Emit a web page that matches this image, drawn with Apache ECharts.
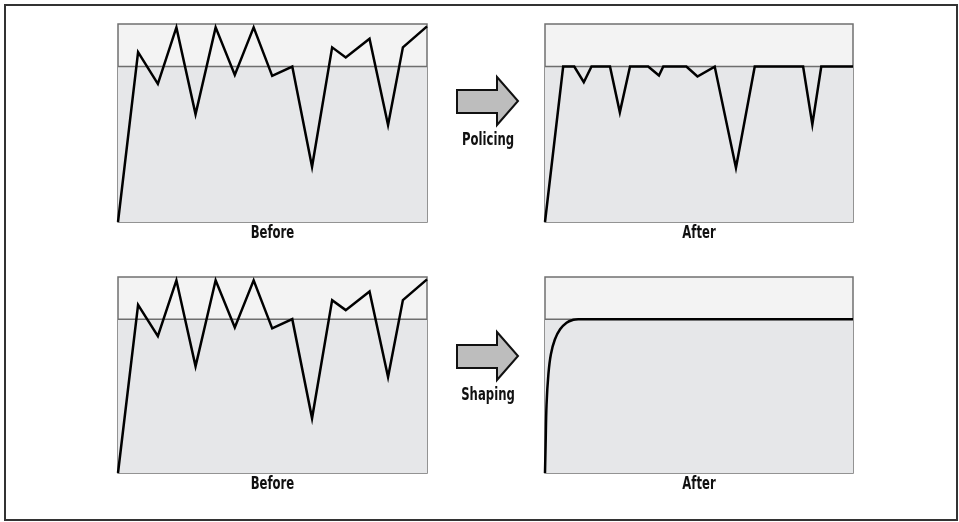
<!DOCTYPE html>
<html>
<head>
<meta charset="utf-8">
<script src="https://cdn.jsdelivr.net/npm/echarts@6/dist/echarts.min.js"></script>
<style>
  html, body { margin: 0; padding: 0; background: #ffffff; }
  #main { width: 959px; height: 522px; }
</style>
</head>
<body>
<div id="main"></div>
<script>
// traffic rate in % of time window (x) and % of panel height (y)
const limit = 78.5
const beforeX = [0, 6.5, 12.9, 18.9, 25.1, 31.6, 37.8, 43.9, 49.9, 56.4, 62.8, 69.3, 73.7, 81.4, 87.4, 92.2, 100]
const beforeY = [0, 85.8, 69.8, 98.3, 54.4, 98.3, 74.3, 98.3, 73.8, 78.5, 27.9, 88.2, 83.1, 92.6, 49.0, 88.2, 98.8]
const policedX = [0, 5.9, 9.5, 12.6, 15.1, 21.1, 24.3, 27.6, 33.5, 37.0, 38.4, 45.9, 49.5, 55.1, 62.0, 68.1, 83.8, 86.8, 89.7, 100]
const policedY = [0, 78.5, 78.5, 70.6, 78.5, 78.5, 55.4, 78.5, 78.5, 74.0, 78.5, 78.5, 73.5, 78.5, 27.4, 78.5, 78.5, 49.3, 78.5, 78.5]
const shapedX = [0, 0.2, 0.5, 1.1, 1.9, 3.2, 4.9, 7.0, 9.2, 10.8, 14, 100]
const shapedY = [0, 14.5, 34.9, 50.3, 60.5, 68.1, 73.3, 76.7, 78.2, 78.5, 78.5, 78.5]
const panelNames = ['Before', 'After', 'Before', 'After']
const arrowNames = ['Policing', 'Shaping']

// no narrow font installed, so condensed bold squeezed a bit more
const labelFont = 'bold 18px "DejaVu Sans Condensed", sans-serif'
const squeeze = 0.72

const zip = (xs, ys) => xs.map((x, i) => [x, ys[i]])
const panelData = [zip(beforeX, beforeY), zip(policedX, policedY), zip(beforeX, beforeY), zip(shapedX, shapedY)]

const grids = [
  { left: 118, top: 24, width: 309, height: 198 },
  { left: 545, top: 24, width: 308, height: 198 },
  { left: 118, top: 277, width: 309, height: 196 },
  { left: 545, top: 277, width: 308, height: 196 }
]

let option = {
  animation: false,
  backgroundColor: '#ffffff',
  grid: grids.map(g => Object.assign({
    show: true,
    backgroundColor: '#f3f3f3',
    borderColor: '#707070',
    borderWidth: 1.5
  }, g)),
  xAxis: [],
  yAxis: [],
  series: [],
  graphic: []
}

for (let i = 0; i < 4; i++) {
  option.xAxis.push({
    type: 'value',
    gridIndex: i,
    min: 0,
    max: 100,
    show: false
  })
  option.yAxis.push({
    type: 'value',
    gridIndex: i,
    min: 0,
    max: 100,
    show: false
  })
  // lower band + limit line
  option.series.push({
    type: 'line',
    xAxisIndex: i,
    yAxisIndex: i,
    z: 1,
    symbol: 'none',
    silent: true,
    data: [[0, limit], [100, limit]],
    lineStyle: { color: '#6e6e6e', width: 1.5 },
    areaStyle: { color: '#e6e7e9', opacity: 1 }
  })
  // traffic
  option.series.push({
    type: 'line',
    xAxisIndex: i,
    yAxisIndex: i,
    z: 3,
    symbol: 'none',
    clip: false,
    smooth: i === 3 ? 0.4 : false,
    data: panelData[i],
    lineStyle: { color: '#000000', width: 2.5, join: 'miter' }
  })
  // panel caption
  const g = grids[i]
  option.graphic.push({
    type: 'text',
    x: g.left + g.width / 2,
    y: g.top + g.height + 11,
    scaleX: squeeze,
    style: { text: panelNames[i], fill: '#111111', font: labelFont, align: 'center', verticalAlign: 'middle' }
  })
}

// arrows between the panels
const arrowTops = [77, 332]
arrowNames.forEach((name, k) => {
  const t = arrowTops[k]
  option.graphic.push({
    type: 'polygon',
    shape: {
      points: [[457, t + 13], [497, t + 13], [497, t], [518, t + 24], [497, t + 48], [497, t + 36], [457, t + 36]]
    },
    style: { fill: '#bdbdbd', stroke: '#111111', lineWidth: 2 }
  })
  option.graphic.push({
    type: 'text',
    x: 488,
    y: t + 63,
    scaleX: squeeze,
    style: { text: name, fill: '#111111', font: labelFont, align: 'center', verticalAlign: 'middle' }
  })
})

// outer frame
option.graphic.push({
  type: 'rect',
  shape: { x: 5, y: 5, width: 952, height: 515 },
  style: { fill: 'none', stroke: '#333333', lineWidth: 2 },
  silent: true
})

const chart = echarts.init(document.getElementById('main'))
chart.setOption(option)
</script>
</body>
</html>
